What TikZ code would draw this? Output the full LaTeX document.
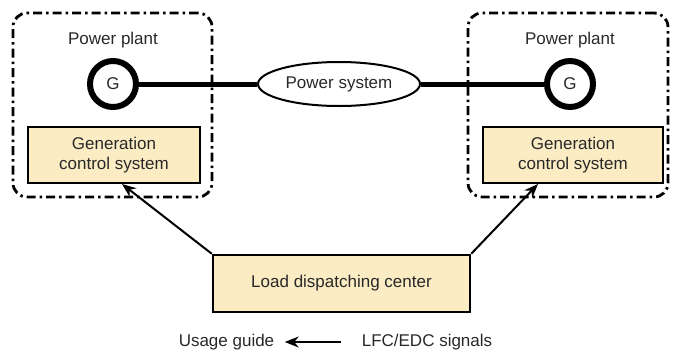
\documentclass[tikz,border=0pt]{standalone}
\usepackage{fontspec}
\setmainfont{Liberation Sans}
\usetikzlibrary{shapes.geometric,arrows.meta}
\definecolor{boxfill}{RGB}{251,236,196}
\definecolor{txt}{RGB}{40,40,40}
\begin{document}
\begin{tikzpicture}[x=1pt,y=-1pt, font=\fontsize{17}{20}\selectfont, text=txt,
 plantbox/.style={draw, line width=2.8pt, rounded corners=14pt, dash pattern=on 9pt off 4pt on 2.5pt off 4pt, inner sep=0pt},
 gcs/.style={draw, line width=2.5pt, fill=boxfill, minimum height=56pt, align=center, inner sep=0pt},
 gen/.style={circle, draw, line width=6pt, minimum size=46pt, inner sep=0pt},
 pline/.style={line width=5pt},
 sig/.style={-{Stealth[length=14pt,width=11pt]}, line width=2pt}]
\useasboundingbox (0,0) rectangle (678,351);
% plant frames
\node[plantbox, minimum width=199pt, minimum height=184pt] (frL) at (112.5,105) {};
\node[plantbox, minimum width=200pt, minimum height=184pt] (frR) at (568,105) {};
% labels
\node (ppL) at (113,40) {Power plant};
\node (ppR) at (570,40) {Power plant};
% generators
\node[gen] (genL) at (113,84) {G};
\node[gen] (genR) at (570,84) {G};
% power system
\node[ellipse, draw, line width=2pt, minimum width=162pt, minimum height=44pt, inner sep=0pt] (ps) at (339,84) {Power system};
\draw[pline] (genL.east) -- (ps.west);
\draw[pline] (ps.east) -- (genR.west);
% generation control systems
\node[gcs, minimum width=172pt] (gcsL) at (114,155) {Generation\\control system};
\node[gcs, minimum width=180pt] (gcsR) at (573,155) {Generation\\control system};
% load dispatching center
\node[gcs, minimum width=257pt, minimum height=57pt] (ldc) at (341.5,283.5) {Load dispatching center};
\coordinate (aL) at (122,184);
\coordinate (aR) at (538,184);
\draw[sig] (ldc.north west) -- (aL);
\draw[sig] (ldc.north east) -- (aR);
% legend
\node (ug) at (226.5,342) {Usage guide};
\node (lfc) at (427,342) {LFC/EDC signals};
\draw[sig, line width=1.8pt, shorten <=17pt, shorten >=7pt] (lfc.west) -- (ug.east);
\end{tikzpicture}
\end{document}
